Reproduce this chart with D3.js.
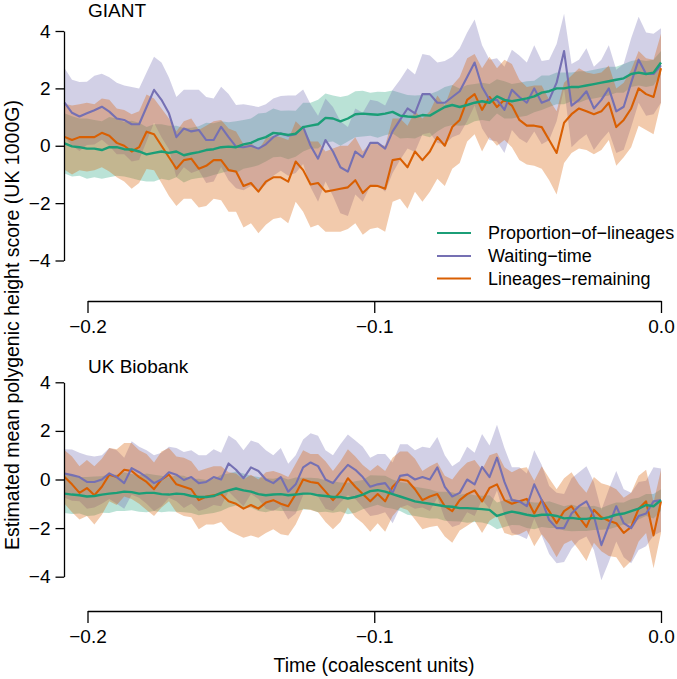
<!DOCTYPE html>
<html><head><meta charset="utf-8">
<script src="https://cdn.jsdelivr.net/npm/d3@7/dist/d3.min.js"></script>
<style>
html,body{margin:0;padding:0;background:#fff;}
text{font-family:"Liberation Sans",Arial,Helvetica,sans-serif;fill:#000;}
</style></head>
<body><svg id="chart" width="677" height="679"></svg>
<script>
// ---------- data ----------
const times = [-0.208,-0.2054,-0.2028,-0.2002,-0.1976,-0.195,-0.1924,-0.1898,-0.1872,-0.1846,-0.182,-0.1794,-0.1768,-0.1742,-0.1716,-0.169,-0.1664,-0.1638,-0.1612,-0.1586,-0.156,-0.1534,-0.1508,-0.1482,-0.1456,-0.143,-0.1404,-0.1378,-0.1352,-0.1326,-0.13,-0.1274,-0.1248,-0.1222,-0.1196,-0.117,-0.1144,-0.1118,-0.1092,-0.1066,-0.104,-0.1014,-0.0988,-0.0962,-0.0936,-0.091,-0.0884,-0.0858,-0.0832,-0.0806,-0.078,-0.0754,-0.0728,-0.0702,-0.0676,-0.065,-0.0624,-0.0598,-0.0572,-0.0546,-0.052,-0.0494,-0.0468,-0.0442,-0.0416,-0.039,-0.0364,-0.0338,-0.0312,-0.0286,-0.026,-0.0234,-0.0208,-0.0182,-0.0156,-0.013,-0.0104,-0.0078,-0.0052,-0.0026,0];

const seriesNames = ["Proportion\u2212of\u2212lineages","Waiting\u2212time","Lineages\u2212remaining"];
const xTicks = [-0.2,-0.1,0.0];
const yTicks = [-4,-2,0,2,4];
const panelTitles = ["GIANT","UK Biobank"];

// GIANT panel
const giantProportion = [0.08,-0.02,-0.05,-0.1,-0.1,-0.15,-0.05,-0.05,-0.12,-0.13,-0.2,-0.3,-0.25,-0.2,-0.25,-0.2,-0.33,-0.27,-0.22,-0.15,-0.12,-0.05,-0.03,-0.05,0.05,0.1,0.22,0.3,0.45,0.42,0.38,0.42,0.65,0.7,0.75,0.97,0.95,0.85,0.95,1.1,1.12,1.1,1.08,1.12,1.18,1.05,1.02,1.0,1.07,1.05,1.2,1.35,1.42,1.35,1.42,1.5,1.55,1.5,1.72,1.6,1.55,1.6,1.65,1.72,1.85,1.9,2.0,2.0,2.05,2.05,2.1,2.15,2.2,2.25,2.3,2.35,2.5,2.55,2.5,2.55,2.9];
const giantWaiting = [1.5,1.15,1.02,1.13,1.24,1.36,1.19,0.95,0.9,0.75,0.75,1.35,1.95,1.6,1.13,0.3,0.6,0.5,0.55,0.2,0.2,0.66,0.3,-0.03,-0.05,0.0,-0.1,0.05,0.3,0.43,0.35,0.4,0.66,0.0,-0.45,0.2,-0.2,-0.75,-0.9,-0.2,-0.4,0.1,0.1,-0.1,0.5,0.9,1.3,1.13,1.8,1.8,1.5,1.5,1.7,1.9,2.4,2.9,2.05,1.6,1.6,1.25,1.95,1.7,1.5,2.0,1.5,1.6,2.2,3.3,1.4,1.6,1.9,1.3,1.6,2.0,1.2,1.36,2.2,3.0,2.5,2.5,2.8];
const giantRemaining = [0.31,0.2,0.3,0.3,0.3,0.45,0.35,0.1,0.0,-0.2,-0.05,0.49,0.4,0.0,-0.4,-0.8,-0.5,-0.45,-0.8,-0.7,-0.5,-0.5,-0.85,-0.9,-1.4,-1.3,-1.6,-1.25,-1.1,-1.1,-1.25,-0.55,-0.85,-1.35,-1.3,-1.6,-1.55,-1.5,-1.45,-1.2,-1.65,-1.4,-1.4,-1.5,-0.5,-0.45,-0.75,-0.2,-0.5,-0.2,0.3,0.0,0.65,0.9,1.6,1.8,1.25,1.7,1.35,1.6,1.4,0.9,0.7,0.7,0.65,0.2,-0.25,0.8,1.1,1.3,1.2,1.1,1.2,1.5,0.65,0.9,1.3,2.0,1.8,1.7,2.7];
// half-widths of the shaded intervals (GIANT)
const giantProportionCI = [1.05,1.05,1.0,1.05,1.0,1.0,1.05,1.0,0.95,1.0,1.0,0.95,1.0,0.95,0.95,0.9,0.95,0.9,0.9,0.95,0.9,0.9,0.85,0.9,0.85,0.85,0.9,0.85,0.85,0.8,0.85,0.8,0.85,0.8,0.85,0.85,0.8,0.85,0.8,0.8,0.8,0.75,0.8,0.75,0.75,0.8,0.75,0.75,0.7,0.75,0.7,0.7,0.7,0.65,0.7,0.65,0.65,0.65,0.6,0.65,0.6,0.6,0.6,0.55,0.6,0.55,0.55,0.55,0.5,0.55,0.5,0.5,0.5,0.5,0.45,0.5,0.45,0.45,0.45,0.45,0.4];
const giantWaitingCI = [1.2,1.15,1.2,1.1,1.2,1.15,1.2,1.25,1.2,1.3,1.25,1.2,1.15,1.3,1.25,1.4,1.35,1.45,1.4,1.5,1.45,1.4,1.5,1.45,1.5,1.4,1.45,1.4,1.35,1.3,1.4,1.35,1.3,1.45,1.5,1.45,1.55,1.6,1.55,1.5,1.55,1.5,1.45,1.5,1.45,1.4,1.4,1.35,1.4,1.35,1.4,1.45,1.4,1.5,1.55,1.5,1.45,1.4,1.45,1.5,1.4,1.45,1.4,1.5,1.45,1.4,1.35,1.3,1.45,1.4,1.5,1.45,1.4,1.5,1.45,1.5,1.55,1.5,1.45,1.4,1.3];
const giantRemainingCI = [1.15,1.2,1.15,1.2,1.15,1.2,1.25,1.2,1.25,1.3,1.25,1.3,1.25,1.3,1.35,1.3,1.35,1.4,1.35,1.4,1.35,1.4,1.45,1.4,1.45,1.4,1.45,1.5,1.45,1.4,1.45,1.4,1.45,1.5,1.45,1.4,1.45,1.5,1.45,1.5,1.45,1.5,1.45,1.5,1.45,1.4,1.45,1.4,1.45,1.4,1.45,1.4,1.45,1.5,1.45,1.4,1.45,1.4,1.35,1.4,1.45,1.4,1.35,1.4,1.45,1.4,1.45,1.4,1.35,1.4,1.35,1.4,1.35,1.3,1.35,1.3,1.35,1.3,1.25,1.3,1.2];

// UK Biobank panel
const ukbProportion = [-0.58,-0.62,-0.65,-0.7,-0.68,-0.62,-0.58,-0.55,-0.5,-0.52,-0.58,-0.55,-0.55,-0.6,-0.62,-0.58,-0.6,-0.68,-0.72,-0.72,-0.68,-0.55,-0.45,-0.37,-0.45,-0.5,-0.6,-0.65,-0.62,-0.6,-0.65,-0.62,-0.58,-0.58,-0.65,-0.68,-0.72,-0.72,-0.78,-0.72,-0.62,-0.48,-0.44,-0.5,-0.6,-0.7,-0.8,-0.9,-0.95,-1.0,-1.05,-1.1,-1.12,-1.18,-1.18,-1.2,-1.22,-1.25,-1.5,-1.4,-1.32,-1.38,-1.45,-1.5,-1.45,-1.45,-1.5,-1.6,-1.58,-1.62,-1.62,-1.58,-1.62,-1.55,-1.45,-1.4,-1.3,-1.2,-1.05,-1.1,-0.85];
const ukbWaiting = [0.25,0.18,0.1,-0.1,-0.1,0.0,0.25,0.1,-0.15,0.47,0.3,0.1,-0.15,0.0,0.3,0.2,-0.02,0.1,-0.15,-0.1,0.1,0.0,0.66,0.4,0.05,0.5,0.35,0.0,-0.15,0.1,-0.5,-0.2,0.5,0.7,0.55,0.0,-0.15,0.25,0.6,0.4,0.1,-0.3,-0.2,-0.15,-0.55,0.15,0.2,0.0,0.1,0.0,0.5,-0.3,-0.7,-0.55,0.0,-0.2,0.52,0.1,0.9,-0.1,-0.85,-0.9,-1.1,-0.2,-0.85,-1.67,-2.0,-2.0,-1.4,-1.1,-0.9,-1.5,-2.7,-1.9,-1.1,-1.8,-2.0,-1.5,-1.4,-0.9,-0.85];
const ukbRemaining = [0.1,-0.2,-0.55,-0.35,-0.65,-0.3,0.2,0.1,0.4,0.35,0.1,-0.1,-0.4,0.0,0.2,-0.2,-0.3,-0.4,-0.85,-0.7,-0.65,-0.6,-0.9,-1.0,-1.2,-1.05,-1.2,-0.95,-0.85,-1.0,-1.1,-0.6,0.0,-0.1,-0.15,-0.5,-0.85,-0.5,0.05,-0.3,-0.6,-0.9,-0.6,-0.9,-0.3,0.0,-0.05,-0.4,-0.85,-0.7,-0.6,-1.1,-1.3,-0.85,-0.6,-0.45,-0.9,-0.35,-0.2,-0.85,-1.0,-0.9,-0.8,-1.4,-0.85,-1.3,-1.8,-1.3,-1.1,-1.55,-1.95,-1.25,-1.55,-1.7,-1.8,-2.2,-1.95,-1.2,-0.9,-2.3,-0.9];
const ukbProportionCI = [0.8,0.8,0.75,0.8,0.8,0.75,0.8,0.75,0.8,0.75,0.75,0.8,0.75,0.75,0.7,0.75,0.75,0.7,0.75,0.7,0.7,0.75,0.7,0.7,0.7,0.65,0.7,0.7,0.65,0.7,0.65,0.7,0.65,0.65,0.7,0.65,0.65,0.6,0.65,0.65,0.6,0.65,0.6,0.65,0.6,0.6,0.65,0.6,0.6,0.6,0.55,0.6,0.6,0.55,0.6,0.55,0.55,0.6,0.55,0.55,0.55,0.5,0.55,0.55,0.5,0.55,0.5,0.5,0.55,0.5,0.5,0.5,0.45,0.5,0.5,0.45,0.5,0.45,0.45,0.5,0.45];
const ukbWaitingCI = [1.0,1.05,1.0,1.1,1.05,1.0,1.05,1.1,1.05,1.1,1.05,1.1,1.15,1.1,1.05,1.1,1.15,1.1,1.15,1.1,1.15,1.1,1.15,1.2,1.15,1.1,1.15,1.2,1.15,1.2,1.15,1.2,1.15,1.2,1.25,1.2,1.15,1.2,1.25,1.2,1.25,1.2,1.25,1.2,1.25,1.3,1.25,1.2,1.25,1.3,1.25,1.3,1.25,1.3,1.35,1.3,1.35,1.3,1.35,1.4,1.35,1.4,1.35,1.4,1.45,1.4,1.45,1.4,1.45,1.4,1.45,1.4,1.45,1.5,1.45,1.4,1.45,1.4,1.35,1.4,1.3];
const ukbRemainingCI = [1.1,1.15,1.1,1.15,1.2,1.15,1.1,1.15,1.1,1.15,1.1,1.15,1.1,1.15,1.1,1.15,1.2,1.15,1.2,1.15,1.2,1.15,1.2,1.25,1.2,1.25,1.2,1.25,1.2,1.25,1.2,1.25,1.2,1.15,1.2,1.25,1.2,1.25,1.2,1.25,1.2,1.25,1.2,1.25,1.2,1.15,1.2,1.25,1.2,1.25,1.3,1.25,1.3,1.25,1.3,1.25,1.3,1.35,1.3,1.35,1.3,1.35,1.3,1.35,1.4,1.35,1.4,1.35,1.4,1.35,1.4,1.35,1.4,1.45,1.4,1.45,1.4,1.35,1.3,1.35,1.3];

const colors = ["#1b9e77","#7570b3","#d95f02"];

// ---------- drawing ----------
const svg = d3.select("#chart");
const x = d3.scaleLinear().domain([-0.2,0]).range([87.5,661]);

const panels = [
  {title: panelTitles[0], titleY: 16.5, yRange:[260.5,31], axisY:301,
   means:[giantProportion,giantWaiting,giantRemaining], cis:[giantProportionCI,giantWaitingCI,giantRemainingCI], legend:true},
  {title: panelTitles[1], titleY: 373, yRange:[576.7,382.3], axisY:611,
   means:[ukbProportion,ukbWaiting,ukbRemaining], cis:[ukbProportionCI,ukbWaitingCI,ukbRemainingCI], legend:false}
];

const bandOrder = [0,1,2];
const lineOrder = [2,1,0];

panels.forEach(p => {
  const y = d3.scaleLinear().domain([-4,4]).range(p.yRange);
  const g = svg.append("g");

  bandOrder.forEach(si => {
    const m = p.means[si], c = p.cis[si];
    const rows = times.map((t,i)=>({t, lo:m[i]-c[i], hi:m[i]+c[i]}));
    const area = d3.area().x(d=>x(d.t)).y0(d=>y(d.lo)).y1(d=>y(d.hi));
    g.append("path").datum(rows).attr("d",area)
      .attr("fill",colors[si]).attr("fill-opacity", si===0?0.3:0.33).attr("stroke","none");
  });
  lineOrder.forEach(si => {
    const m = p.means[si];
    const rows = times.map((t,i)=>({t, v:m[i]}));
    const line = d3.line().x(d=>x(d.t)).y(d=>y(d.v));
    g.append("path").datum(rows).attr("d",line)
      .attr("fill","none").attr("stroke",colors[si]).attr("stroke-width", si===0?2.4:2.1)
      .attr("stroke-linejoin","round");
  });

  // y axis
  const ya = g.append("g").attr("transform","translate(64,0)")
    .call(d3.axisLeft(y).tickValues(yTicks).tickSize(8.5).tickSizeOuter(0).tickPadding(5).tickFormat(d3.format("d")));
  ya.selectAll("path,line").attr("stroke","#000").attr("stroke-width",1.3);
  ya.selectAll("text").style("font-size","19px").attr("fill","#000");

  // x axis
  const xa = g.append("g").attr("transform",`translate(0,${p.axisY})`)
    .call(d3.axisBottom(x).tickValues(xTicks).tickSize(12).tickSizeOuter(0).tickPadding(6.5).tickFormat(d3.format(".1f")));
  xa.selectAll("path,line").attr("stroke","#000").attr("stroke-width",1.3);
  xa.selectAll("text").style("font-size","19px").attr("fill","#000");

  g.append("text").attr("x",88).attr("y",p.titleY).style("font-size","19px").text(p.title);

  if (p.legend) {
    const ly = [233,256,278.5];
    seriesNames.forEach((name,i)=>{
      g.append("line").attr("x1",437).attr("x2",471).attr("y1",ly[i]).attr("y2",ly[i])
        .attr("stroke",colors[i]).attr("stroke-width",2);
      g.append("text").attr("x",488).attr("y",ly[i]).attr("dy","0.35em")
        .style("font-size","18px").text(name);
    });
  }
});

svg.append("text").attr("transform","translate(19,325) rotate(-90)")
  .attr("text-anchor","middle").style("font-size","19.5px")
  .text("Estimated mean polygenic height score (UK 1000G)");
svg.append("text").attr("x",374).attr("y",672).attr("text-anchor","middle")
  .style("font-size","19.5px").text("Time (coalescent units)");
</script></body></html>
